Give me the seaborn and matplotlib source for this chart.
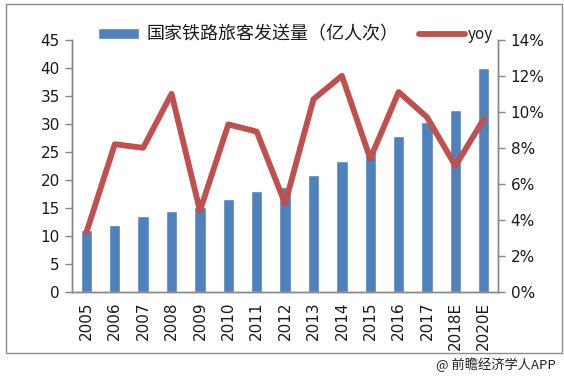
import numpy as np
import pandas as pd
import matplotlib
matplotlib.use('Agg')
import matplotlib.pyplot as plt
import seaborn as sns
from matplotlib.patches import Rectangle

years = ['2005', '2006', '2007', '2008', '2009', '2010', '2011', '2012',
         '2013', '2014', '2015', '2016', '2017', '2018E', '2020E']
passengers = [11.0, 12.0, 13.6, 14.5, 15.1, 16.6, 18.0, 18.8,
              20.8, 23.3, 25.0, 27.9, 30.4, 32.5, 40.0]
yoy = [3.3, 8.2, 8.0, 11.0, 4.5, 9.3, 8.9, 4.9,
       10.7, 12.0, 7.4, 11.1, 9.7, 7.0, 9.6]

bar_label = '国家铁路旅客发送量（亿人次）'
line_label = 'yoy'

sns.set_style('white')
plt.rcParams['font.family'] = ['Noto Sans CJK SC', 'DejaVu Sans']

df = pd.DataFrame({'year': years, 'passengers': passengers, 'yoy': yoy})
df['pos'] = np.arange(len(years))

fig = plt.figure(figsize=(5.64, 3.79), dpi=100)
fig.patches.append(Rectangle((0.011, 0.068), 0.985, 0.921, transform=fig.transFigure,
                             fill=False, edgecolor='#8c8c8c', linewidth=1))
ax = fig.add_axes([0.128, 0.23, 0.755, 0.665])

sns.barplot(data=df, x='year', y='passengers', color='#4f81bd', width=0.4,
            saturation=1, ax=ax, label=bar_label)
ax.set_ylim(0, 45)
ax.set_xlim(-0.5, len(years) - 0.5)
ax.set_xlabel('')
ax.set_ylabel('')

ax2 = ax.twinx()
sns.lineplot(data=df, x='pos', y='yoy', color='#c0504d', linewidth=4.2, ax=ax2,
             label=line_label)
ax2.set_ylim(0, 14)
ax2.set_yticks(range(0, 15, 2))
ax2.set_ylabel('')
ax2.set_xlabel('')
ax2.set_xlim(-0.5, len(years) - 0.5)

for a in (ax, ax2):
    a.spines['top'].set_visible(False)
    for s in ['left', 'right', 'bottom']:
        a.spines[s].set_color('#868686')
        a.spines[s].set_linewidth(1)

tick_font = {'family': 'DejaVu Sans', 'size': 11, 'color': '#1a1a1a'}
ax.set_yticks(range(0, 46, 5))
ax.set_yticklabels([str(v) for v in range(0, 46, 5)], fontdict=tick_font)
ax2.set_yticklabels([f'{v}%' for v in range(0, 15, 2)], fontdict=tick_font)
ax.tick_params(axis='y', direction='out', length=5, width=1, color='#868686', pad=4)
ax2.tick_params(axis='y', direction='out', length=5, width=1, color='#868686', pad=4)
ax.set_xticks(range(len(years)))
ax.set_xticklabels(years, rotation=90, fontdict=tick_font)
ax.tick_params(axis='x', which='major', length=0, pad=7)
ax.set_xticks(np.arange(-0.5, len(years), 1), minor=True)
ax.tick_params(axis='x', which='minor', direction='out', length=5, width=1, color='#868686')

h1, l1 = ax.get_legend_handles_labels()
h2, l2 = ax2.get_legend_handles_labels()
if ax2.get_legend():
    ax2.get_legend().remove()
ax.legend(h1, l1, loc='center left', bbox_to_anchor=(0.06, 1.02), frameon=False,
          fontsize=13, handlelength=2.3, handleheight=0.6, handletextpad=0.4,
          borderaxespad=0, borderpad=0, labelcolor='#1a1a1a')
ax2.legend(h2, l2, loc='center left', bbox_to_anchor=(0.815, 1.02), frameon=False,
           fontsize=11, handlelength=3.0, handletextpad=0.15, borderaxespad=0,
           borderpad=0, labelcolor='#1a1a1a')

fig.text(0.985, 0.018, '@ 前瞻经济学人APP', ha='right', va='bottom', fontsize=9.5,
         color='#222222')

fig.savefig('out.png', dpi=100)
